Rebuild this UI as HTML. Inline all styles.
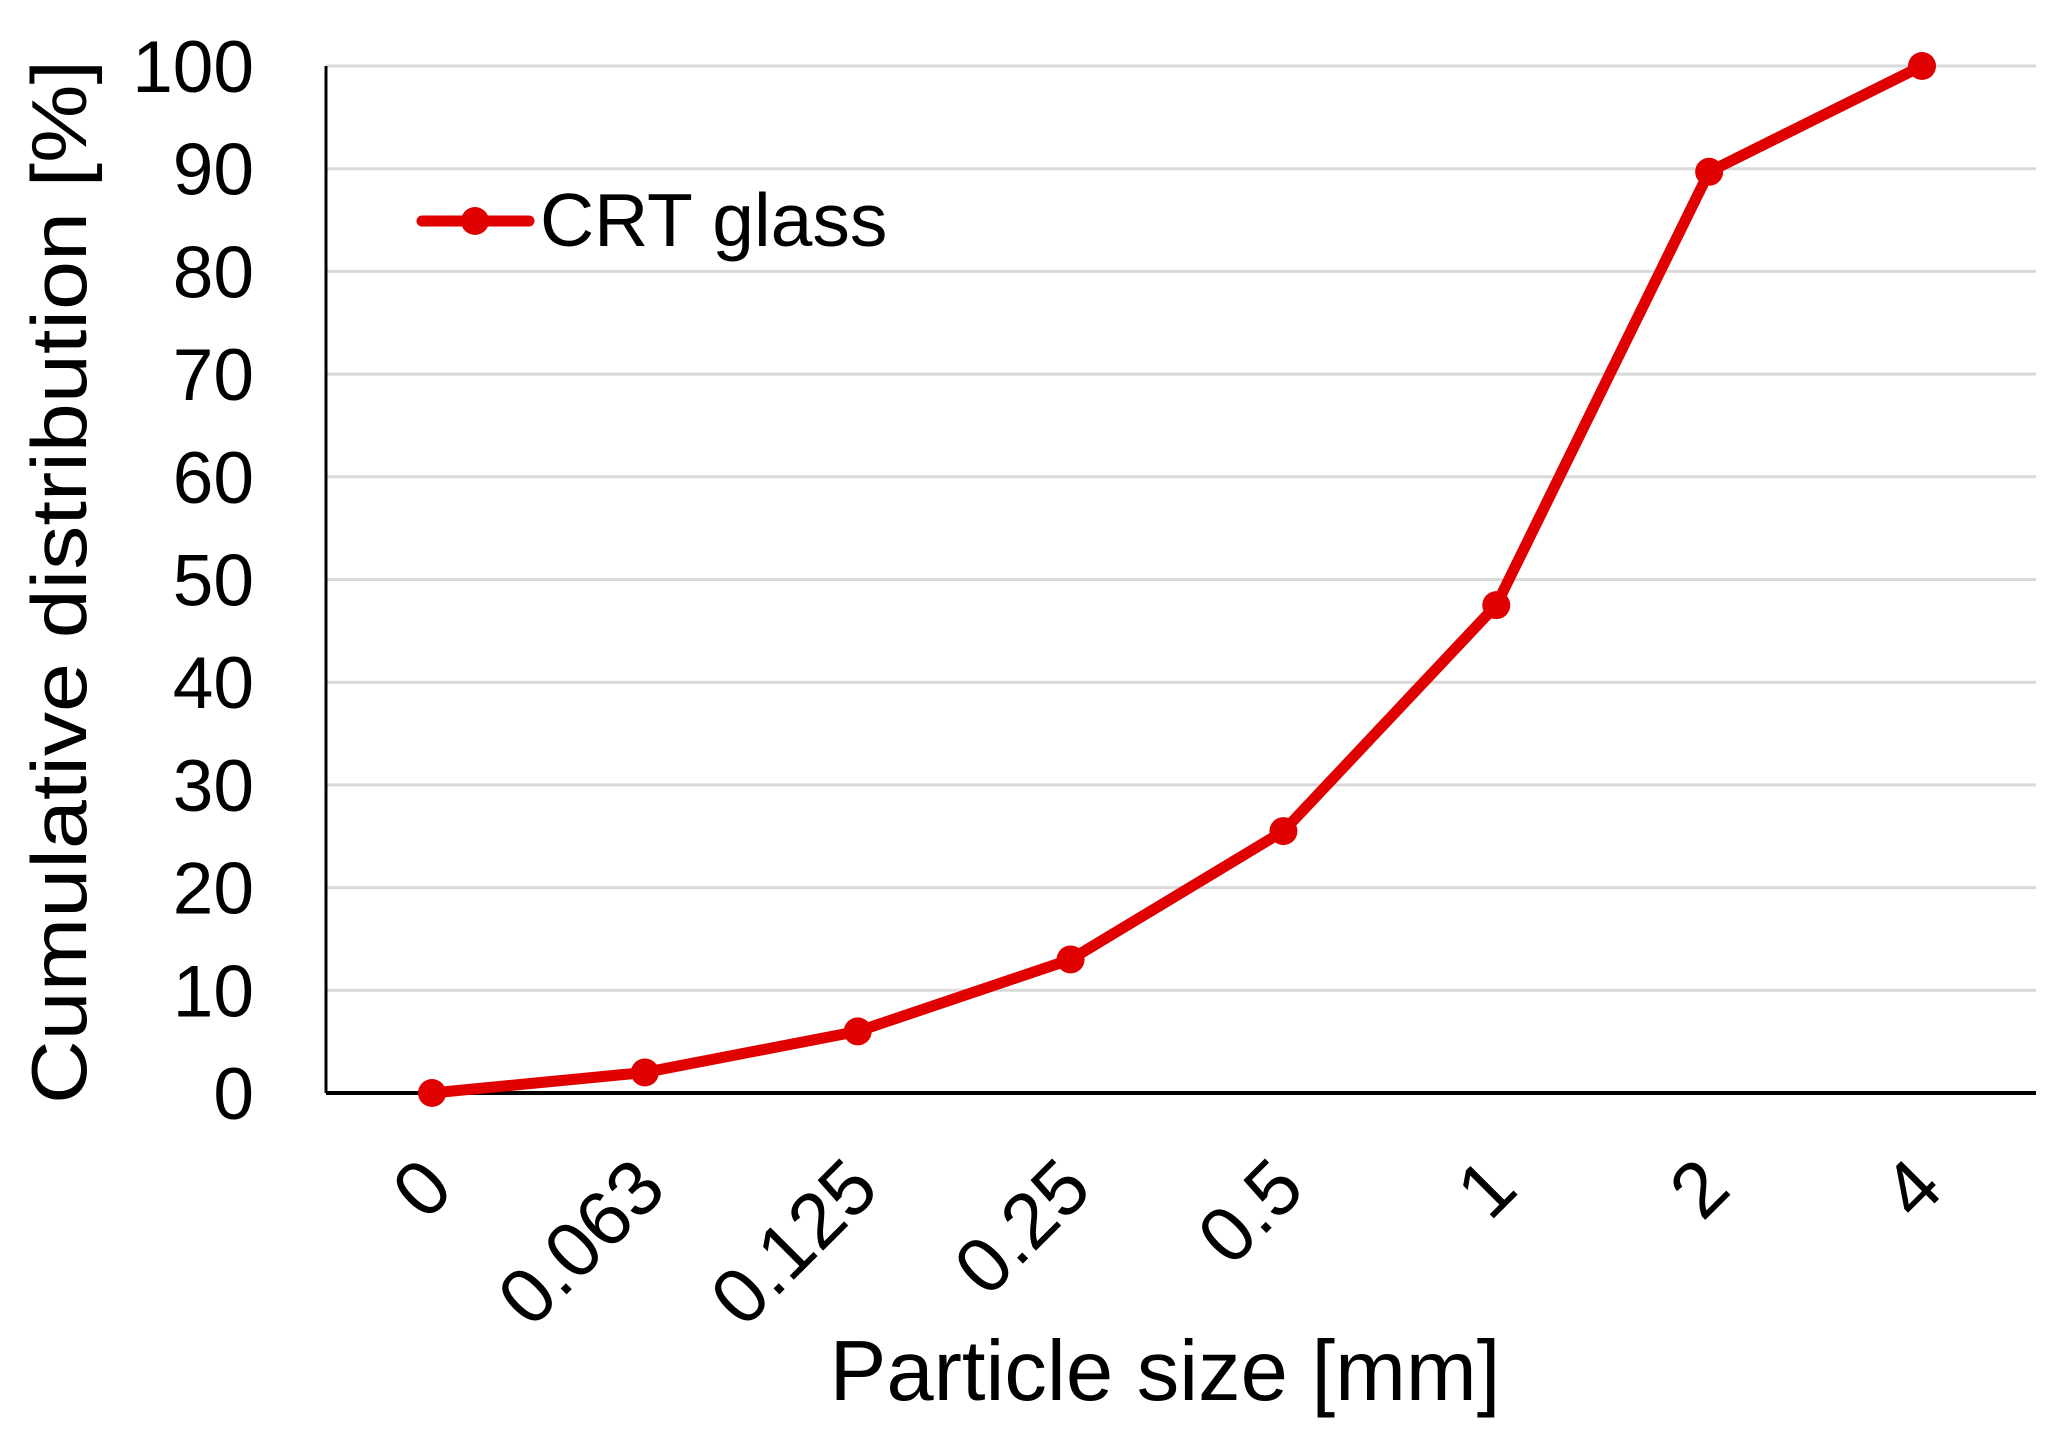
<!DOCTYPE html>
<html><head><meta charset="utf-8"><style>
body{margin:0;background:#fff}
svg{display:block;font-family:"Liberation Sans",Arial,sans-serif}
</style></head><body>
<svg id="chart" width="2059" height="1431" viewBox="0 0 2059 1431">
<g id="grid"></g>
<g id="yticks"></g>
<g id="xticks"></g>
<line x1="326" y1="66" x2="326" y2="1093" stroke="#000" stroke-width="3"/>
<line x1="326" y1="1093" x2="2036" y2="1093" stroke="#000" stroke-width="4"/>
<g id="series"></g>
<g>
<line x1="422" y1="221" x2="529" y2="221" stroke="#e00000" stroke-width="11" stroke-linecap="round"/>
<circle cx="475" cy="221" r="14" fill="#e00000"/>
<text x="540" y="246" font-size="75" fill="#000">CRT glass</text>
</g>
<text transform="translate(86,582) rotate(-90)" text-anchor="middle" font-size="78" textLength="1044" lengthAdjust="spacingAndGlyphs">Cumulative distribution [%]</text>
<text x="1165" y="1400" text-anchor="middle" font-size="85">Particle size [mm]</text>
</svg>
<script>
const categories = ["0","0.063","0.125","0.25","0.5","1","2","4"];
const values = [0, 2, 6, 13, 25.5, 47.5, 89.7, 100];
const yTicks = [0,10,20,30,40,50,60,70,80,90,100];
const NS="http://www.w3.org/2000/svg";
const L=326,R=2036,T=66,B=1093;
const X0=432,X1=1922;
function xs(i){return X0+(X1-X0)*i/(categories.length-1);}
function ys(v){return B-(v/100)*(B-T);}
function mk(tag,attrs,parent){const e=document.createElementNS(NS,tag);for(const k in attrs)e.setAttribute(k,attrs[k]);parent.appendChild(e);return e;}
const grid=document.getElementById('grid'),yt=document.getElementById('yticks'),xt=document.getElementById('xticks'),se=document.getElementById('series');
yTicks.forEach(v=>{
  if(v>0){const g=mk('line',{x1:L,x2:R,y1:ys(v),y2:ys(v),stroke:'#d9d9d9','stroke-width':3},grid);
  
  }
  const t=mk('text',{x:254,y:ys(v)+26,'text-anchor':'end','font-size':73},yt);
  t.textContent=v;
  
  
});
categories.forEach((c,i)=>{
  const t=mk('text',{transform:`translate(${xs(i)+24},1192) rotate(-45)`,'text-anchor':'end','font-size':78},xt);
  t.textContent=c;
  
  
});
const pts=values.map((v,i)=>xs(i)+','+ys(v)).join(' ');
const pl=mk('polyline',{points:pts,fill:'none',stroke:'#e00000','stroke-width':11,'stroke-linejoin':'round'},se);


values.forEach((v,i)=>{
  const c=mk('circle',{cx:xs(i),cy:ys(v),r:14,fill:'#e00000'},se);
  
  
});
</script>
</body></html>
